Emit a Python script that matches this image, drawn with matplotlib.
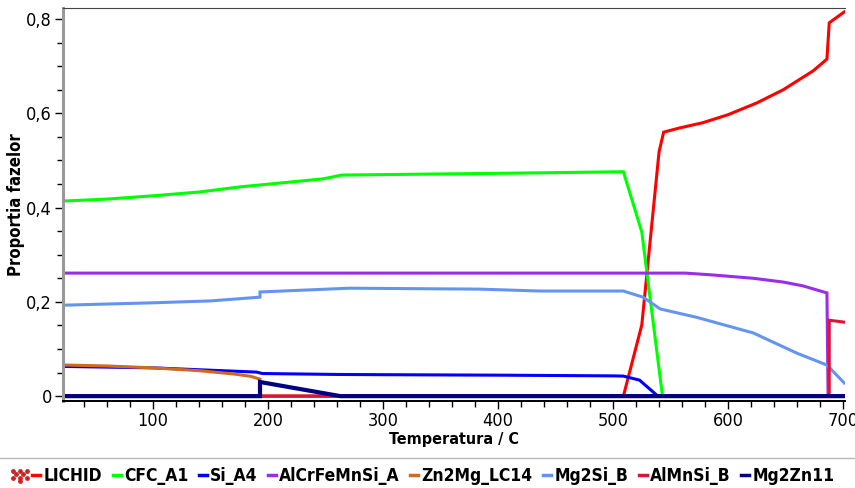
import matplotlib
matplotlib.use('Agg')
import matplotlib.pyplot as plt
from matplotlib.lines import Line2D
from matplotlib.ticker import MultipleLocator, FuncFormatter

# phase fractions (temperature in C)
lichid_t = [23, 509, 525, 540, 544, 558, 578, 600, 625, 648, 674, 686, 688, 701]
lichid_v = [0, 0, 0.151, 0.518, 0.56, 0.569, 0.58, 0.597, 0.622, 0.65, 0.69, 0.715, 0.792, 0.815]

cfc_t = [23, 60, 100, 140, 176, 210, 248, 264, 338, 413, 509, 525, 543, 701]
cfc_v = [0.414, 0.418, 0.425, 0.433, 0.444, 0.452, 0.461, 0.469, 0.471, 0.473, 0.476, 0.348, 0, 0]

si_t = [23, 100, 150, 190, 195, 260, 300, 400, 500, 509, 523, 539, 701]
si_v = [0.063, 0.060, 0.055, 0.051, 0.048, 0.046, 0.0455, 0.0445, 0.043, 0.0425, 0.034, 0, 0]

alcr_t = [23, 563, 587, 622, 648, 665, 686, 687, 701]
alcr_v = [0.261, 0.261, 0.257, 0.25, 0.242, 0.234, 0.219, 0, 0]

zn2mg_t = [23, 60, 100, 140, 170, 185, 193, 193, 701]
zn2mg_v = [0.066, 0.064, 0.060, 0.054, 0.047, 0.042, 0.036, 0, 0]

mg2si_t = [23, 100, 150, 193, 193, 271, 384, 436, 509, 526, 541, 573, 622, 660, 686, 701]
mg2si_v = [0.193, 0.198, 0.202, 0.21, 0.221, 0.229, 0.227, 0.223, 0.223, 0.21, 0.185, 0.167,
           0.134, 0.091, 0.066, 0.028]

almnsi_t = [23, 688, 688, 701]
almnsi_v = [0, 0, 0.161, 0.157]

mg2zn_t = [23, 193, 193, 263, 701]
mg2zn_v = [0, 0, 0.03, 0, 0]

names = ['LICHID', 'CFC_A1', 'Si_A4', 'AlCrFeMnSi_A', 'Zn2Mg_LC14', 'Mg2Si_B', 'AlMnSi_B', 'Mg2Zn11']
colors = ['#ff0000', '#00ff00', '#0000ff', '#9a2ee6', '#d2691e', '#6495ed', '#dc143c', '#000080']
series = [(lichid_t, lichid_v), (cfc_t, cfc_v), (si_t, si_v), (alcr_t, alcr_v),
          (zn2mg_t, zn2mg_v), (mg2si_t, mg2si_v), (almnsi_t, almnsi_v), (mg2zn_t, mg2zn_v)]

plt.rcParams['font.family'] = ['DejaVu Sans']
plt.rcParams['font.stretch'] = 'condensed'

fig = plt.figure(figsize=(8.55, 4.88), dpi=100)
ax = fig.add_axes([0.0737, 0.178, 0.9146, 0.806])

for (t, v), c, n in zip(series, colors, names):
    lw = 3.0 if n == 'Mg2Zn11' else 2.2
    ax.plot(t, v, color=c, lw=lw, label=n, solid_joinstyle='miter')

ax.set_xlim(21.7, 701.7)
ax.set_ylim(-0.0106, 0.8238)

ax.xaxis.set_major_locator(MultipleLocator(100))
ax.xaxis.set_minor_locator(MultipleLocator(20))
ax.yaxis.set_major_locator(MultipleLocator(0.2))
ax.yaxis.set_minor_locator(MultipleLocator(0.05))
ax.yaxis.set_major_formatter(FuncFormatter(lambda v, p: '0' if abs(v) < 1e-9 else f'{v:.1f}'.replace('.', ',')))

ax.tick_params(which='major', length=6, width=1, labelsize=13, colors='black', pad=2)
ax.tick_params(which='minor', length=4, width=1)

ax.spines['right'].set_visible(False)
ax.spines['top'].set_color('#444444')
ax.spines['top'].set_linewidth(0.8)
ax.spines['left'].set_color('#999999')
ax.spines['left'].set_linewidth(2.2)
ax.spines['bottom'].set_color('black')
ax.spines['bottom'].set_linewidth(1.4)

ax.set_xlabel('Temperatura / C', fontsize=11.5, fontweight='bold', labelpad=1)
ax.set_ylabel('Proportia fazelor', fontsize=12, fontweight='bold', labelpad=1)

# legend strip at the bottom
fig.add_artist(Line2D([0, 1], [0.061, 0.061], color='#bbbbbb', lw=1))
handles = [Line2D([], [], color=c, lw=2.5) for c in colors]
fig.legend(handles, names, loc='center left', bbox_to_anchor=(0.038, 0.025), ncol=8,
           frameon=False, handlelength=0.45, handletextpad=0.2, columnspacing=0.6,
           prop={'family': 'DejaVu Sans', 'stretch': 'condensed', 'weight': 'bold', 'size': 12.5},
           borderaxespad=0, borderpad=0)

# small icon in front of the legend
icon = fig.add_axes([0.010, 0.008, 0.026, 0.034])
icon.scatter([0, 1, 2, 0.5, 1.5, 1, 0, 2, 1], [2, 2, 2, 1.3, 1.3, 0.6, 0.6, 0.6, 0],
             s=6, color='#cc2222')
icon.set_xlim(-0.6, 2.6)
icon.set_ylim(-0.6, 2.6)
icon.axis('off')

fig.savefig('out.png', dpi=100)
